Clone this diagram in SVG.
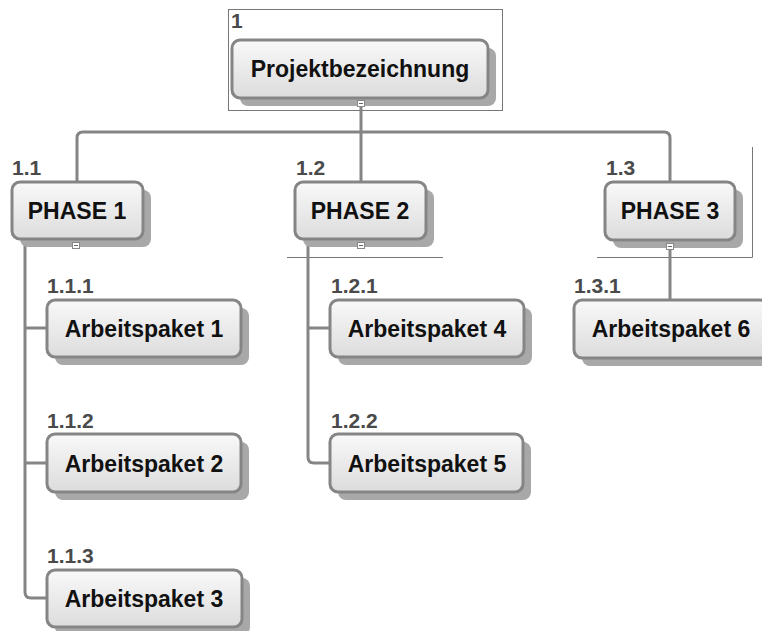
<svg xmlns="http://www.w3.org/2000/svg" width="762" height="631" viewBox="0 0 762 631">
<defs>
<linearGradient id="g" x1="0" y1="0" x2="0" y2="1">
<stop offset="0" stop-color="#f9f9f9"/>
<stop offset="1" stop-color="#dcdcdc"/>
</linearGradient>
</defs>
<style>
.sh{fill:#a8a8a8}
.bx{fill:url(#g);stroke:#858585;stroke-width:3}
.t{font-family:"Liberation Sans",Arial,sans-serif;font-weight:bold;font-size:23px;fill:#111;text-anchor:middle}
.n{font-family:"Liberation Sans",Arial,sans-serif;font-weight:bold;font-size:21px;fill:#4a4a4a}
.c{fill:none;stroke:#858585;stroke-width:3}
.f{fill:none;stroke:#777;stroke-width:1}
.m{fill:#fff;stroke:#888;stroke-width:1}
.mm{stroke:#666;stroke-width:1}
</style>
<rect width="762" height="631" fill="#fff"/>
<g id="frames">
<rect class="f" x="228.5" y="9.5" width="274" height="101"/>
<line class="f" x1="287" y1="257.5" x2="443" y2="257.5"/>
<path class="f" d="M597 257.5 H752.5 V147"/>
</g>
<g id="connectors">
<path class="c" d="M361 104 V182"/>
<path class="c" d="M77 182 V138 Q77 132 83 132 H664 Q670 132 670 138 V182"/>
<path class="c" d="M25 239 V592 Q25 598 31 598 H47"/>
<path class="c" d="M25 328 H47 M25 463 H47"/>
<path class="c" d="M308 239 V457 Q308 463 314 463 H330"/>
<path class="c" d="M308 328 H330"/>
<path class="c" d="M670 240 V300"/>
</g>
<g id="n1">
<rect class="sh" x="240" y="48" width="256" height="58" rx="8"/>
<rect class="bx" x="232" y="40" width="256" height="58" rx="8"/>
<text class="n" x="231" y="28">1</text>
<text class="t" x="360" y="77">Projektbezeichnung</text>
<rect class="m" x="357.5" y="100.5" width="7" height="6"/><line class="mm" x1="359" y1="103.5" x2="363" y2="103.5"/>
</g>
<g id="n1_1">
<rect class="sh" x="20" y="190" width="131" height="57" rx="8"/>
<rect class="bx" x="12" y="182" width="131" height="57" rx="8"/>
<text class="n" x="12" y="175">1.1</text>
<text class="t" x="77" y="219">PHASE 1</text>
<rect class="m" x="72.5" y="242.5" width="7" height="6"/><line class="mm" x1="74" y1="245.5" x2="78" y2="245.5"/>
</g>
<g id="n1_2">
<rect class="sh" x="303" y="190" width="131" height="57" rx="8"/>
<rect class="bx" x="295" y="182" width="131" height="57" rx="8"/>
<text class="n" x="296" y="175">1.2</text>
<text class="t" x="360" y="219">PHASE 2</text>
<rect class="m" x="357.5" y="242.5" width="7" height="6"/><line class="mm" x1="359" y1="245.5" x2="363" y2="245.5"/>
</g>
<g id="n1_3">
<rect class="sh" x="613" y="190" width="130" height="58" rx="8"/>
<rect class="bx" x="605" y="182" width="130" height="58" rx="8"/>
<text class="n" x="606" y="175">1.3</text>
<text class="t" x="670" y="219">PHASE 3</text>
<rect class="m" x="666.5" y="243.5" width="7" height="6"/><line class="mm" x1="668" y1="246.5" x2="672" y2="246.5"/>
</g>
<g id="n1_1_1">
<rect class="sh" x="55" y="308" width="194" height="57" rx="8"/>
<rect class="bx" x="47" y="300" width="194" height="57" rx="8"/>
<text class="n" x="47" y="293">1.1.1</text>
<text class="t" x="144" y="337">Arbeitspaket 1</text>
</g>
<g id="n1_1_2">
<rect class="sh" x="55" y="442" width="194" height="58" rx="8"/>
<rect class="bx" x="47" y="434" width="194" height="58" rx="8"/>
<text class="n" x="47" y="428">1.1.2</text>
<text class="t" x="144" y="472">Arbeitspaket 2</text>
</g>
<g id="n1_1_3">
<rect class="sh" x="55" y="578" width="195" height="57" rx="8"/>
<rect class="bx" x="47" y="570" width="195" height="57" rx="8"/>
<text class="n" x="47" y="563">1.1.3</text>
<text class="t" x="144" y="607">Arbeitspaket 3</text>
</g>
<g id="n1_2_1">
<rect class="sh" x="338" y="308" width="194" height="57" rx="8"/>
<rect class="bx" x="330" y="300" width="194" height="57" rx="8"/>
<text class="n" x="331" y="293">1.2.1</text>
<text class="t" x="427" y="337">Arbeitspaket 4</text>
</g>
<g id="n1_2_2">
<rect class="sh" x="338" y="442" width="193" height="58" rx="8"/>
<rect class="bx" x="330" y="434" width="193" height="58" rx="8"/>
<text class="n" x="331" y="428">1.2.2</text>
<text class="t" x="427" y="472">Arbeitspaket 5</text>
</g>
<g id="n1_3_1">
<rect class="sh" x="582" y="308" width="194" height="58" rx="8"/>
<rect class="bx" x="574" y="300" width="194" height="58" rx="8"/>
<text class="n" x="574" y="293">1.3.1</text>
<text class="t" x="671" y="337">Arbeitspaket 6</text>
</g>
</svg>
